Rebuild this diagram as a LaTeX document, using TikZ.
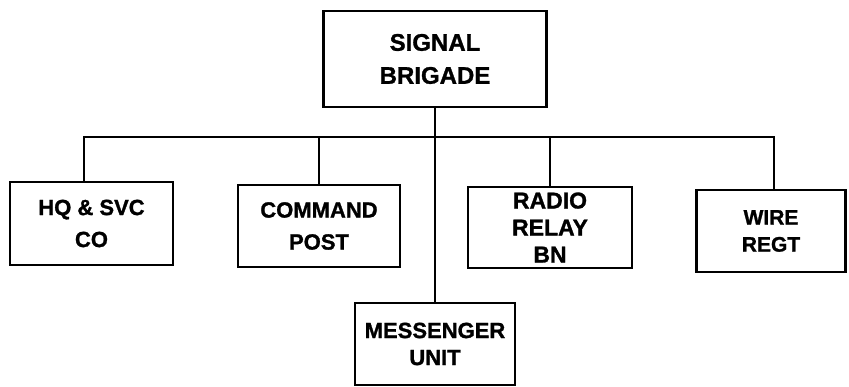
\documentclass[tikz,border=0pt]{standalone}
\usepackage{fontspec}
\setmainfont{Liberation Sans}[BoldFeatures={FakeBold=1.2}]
\usetikzlibrary{positioning}

\begin{document}
\begin{tikzpicture}[x=1pt, y=-1pt,
    unit/.style={draw=black, line width=2.6pt, align=center, inner sep=0pt, font=\bfseries\fontsize{22}{27}\selectfont},
    link/.style={draw=black, line width=2.2pt}]
            \useasboundingbox (0,0) rectangle (849,387);
            \node[unit, minimum width=223pt, minimum height=96pt, font=\bfseries\fontsize{24}{33}\selectfont] (brigade) at (435,59) {SIGNAL\\BRIGADE};
            \node[unit, minimum width=163pt, minimum height=83pt, font=\bfseries\fontsize{22}{32}\selectfont] (hq) at (91.5,223.5) {HQ \& SVC\\CO};
            \node[unit, minimum width=162pt, minimum height=82pt, font=\bfseries\fontsize{22}{32}\selectfont] (cmdpost) at (319,226) {COMMAND\\POST};
            \node[unit, minimum width=164pt, minimum height=81pt, font=\bfseries\fontsize{23}{27}\selectfont] (radio) at (550,227.5) {RADIO\\RELAY\\BN};
            \node[unit, minimum width=149pt, minimum height=82pt, font=\bfseries\fontsize{21}{27}\selectfont] (wire) at (771,231) {WIRE\\REGT};
            \node[unit, minimum width=160pt, minimum height=82pt] (messenger) at (435,344) {MESSENGER\\UNIT};
            \coordinate (bus) at (435,137);
            \draw[link] (brigade) -- (messenger);
            \draw[link] ([xshift=-7.5pt]hq.north) |- (bus) -| ([xshift=3pt]wire.north);
            \draw[link] (cmdpost.north) -- (cmdpost.north |- bus);
            \draw[link] (radio.north) -- (radio.north |- bus);
        \end{tikzpicture}
\end{document}
